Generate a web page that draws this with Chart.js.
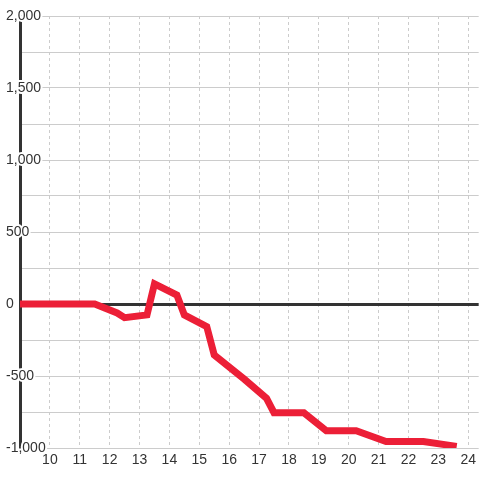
<!DOCTYPE html>
<html>
<head>
<meta charset="utf-8">
<script src="https://cdn.jsdelivr.net/npm/chart.js@4"></script>
<style>
  body { margin: 0; background: #fff; }
</style>
</head>
<body>
<canvas id="lineChart" width="480" height="480"></canvas>
<script>
// hours of the day (x) and running total (y)
var hours = [9, 11.5, 12.25, 12.5, 13.25, 13.5, 14.25, 14.5, 15.25, 15.5, 16.25, 16.5, 17.25, 17.5, 18.5, 19.25, 20.25, 21.25, 22.5, 23.5];
var totals = [0, 0, -62, -95, -76, 140, 62, -76, -157, -354, -479, -521, -655, -755, -755, -880, -880, -955, -955, -985];

var hourTicks = [10, 11, 12, 13, 14, 15, 16, 17, 18, 19, 20, 21, 22, 23, 24];
var valueTicks = [-1000, -500, 0, 500, 1000, 1500, 2000];

var points = [];
for (var i = 0; i < hours.length; i++) {
   points.push({ x: hours[i], y: totals[i] });
}

var labelFont = { family: "'Liberation Sans', Arial, sans-serif", size: 14 };

var ctx = document.getElementById('lineChart');

var lineChart = new Chart(ctx, {
   type: 'line',
   data: {
      datasets: [{
         data: points,
         borderColor: '#ec1f37',
         borderWidth: 7,
         borderCapStyle: 'square',
         borderJoinStyle: 'miter',
         pointRadius: 0,
         tension: 0,
         fill: false
      }]
   },
   options: {
      responsive: false,
      animation: false,
      layout: { padding: { left: 6, top: 16, right: 0, bottom: 0 } },
      plugins: {
         legend: { display: false },
         tooltip: { enabled: false }
      },
      scales: {
         x: {
            type: 'linear',
            min: 9,
            max: 24.35,
            afterBuildTicks: function (scale) {
               scale.ticks = hourTicks.map(function (v) { return { value: v }; });
            },
            afterFit: function (scale) { scale.height = 32; },
            grid: { color: '#cccccc', lineWidth: 1, drawTicks: false },
            border: { display: false, dash: [3, 3] },
            ticks: {
               autoSkip: false,
               maxRotation: 0,
               padding: 4,
               color: '#333333',
               font: labelFont,
               callback: function (v) { return String(v); }
            }
         },
         y: {
            min: -1000,
            max: 2000,
            afterBuildTicks: function (scale) {
               var t = [];
               for (var v = -1000; v <= 2000; v += 250) t.push({ value: v });
               scale.ticks = t;
            },
            afterFit: function (scale) { scale.width = 14; },
            grid: {
               drawTicks: false,
               color: function (c) { return c.tick && c.tick.value === 0 ? '#333333' : '#cccccc'; },
               lineWidth: function (c) { return c.tick && c.tick.value === 0 ? 3 : 1; }
            },
            border: { display: true, color: '#333333', width: 3 },
            ticks: {
               mirror: true,
               crossAlign: 'near',
               padding: -14,
               color: '#333333',
               font: labelFont,
               textStrokeColor: '#ffffff',
               textStrokeWidth: 4,
               callback: function (v) {
                  return valueTicks.indexOf(v) >= 0 ? v.toLocaleString('en-US') : '';
               }
            }
         }
      }
   }
});
</script>
</body>
</html>
